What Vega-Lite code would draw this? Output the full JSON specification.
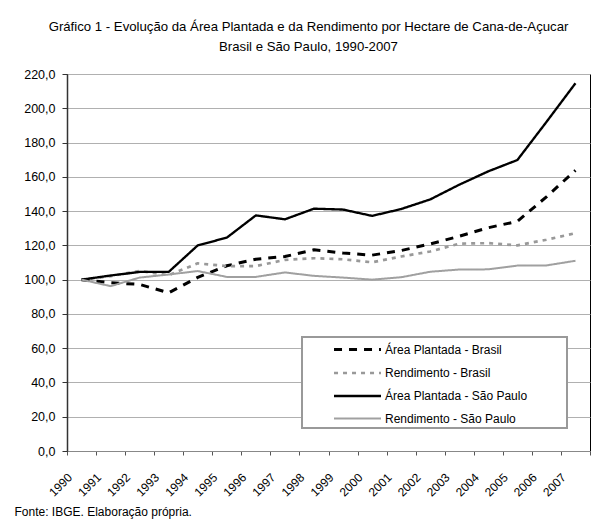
{
  "$schema": "https://vega.github.io/schema/vega-lite/v6.json",
  "width": 523,
  "height": 377,
  "autosize": {"type": "none"},
  "padding": {"left": 67, "top": 74, "right": 6, "bottom": 70},
  "background": "white",
  "config": {
    "locale": {"number": {"decimal": ",", "thousands": ".", "grouping": [3], "currency": ["R$", ""]}},
    "font": "Liberation Sans",
    "view": {"stroke": "black", "strokeWidth": 1},
    "legend": {
      "orient": "none",
      "legendX": 235,
      "legendY": 263,
      "fillColor": "white",
      "strokeColor": "#999999",
      "strokeWidth": 2,
      "padding": 3,
      "labelFontSize": 12,
      "labelColor": "black",
      "labelFont": "Liberation Sans",
      "symbolType": "M-3,0H3",
      "symbolSize": 245,
      "symbolOffset": 43,
      "labelOffset": 18,
      "rowPadding": 7.5,
      "titleOrient": "right",
      "titlePadding": 37,
      "titleFontSize": 12
    }
  },
  "title": {
    "text": ["Gráfico 1 - Evolução da Área Plantada e da Rendimento por Hectare de Cana-de-Açucar", "Brasil e São Paulo, 1990-2007"],
    "fontSize": 13.2,
    "fontWeight": "normal",
    "color": "black",
    "anchor": "middle",
    "dx": -20,
    "offset": 14,
    "lineHeight": 20
  },
  "data": {
    "values": [
      {"ano": "1990", "Área Plantada - Brasil": 100, "Rendimento - Brasil": 100, "Área Plantada - São Paulo": 100, "Rendimento - São Paulo": 100},
      {"ano": "1991", "Área Plantada - Brasil": 98.2, "Rendimento - Brasil": 102, "Área Plantada - São Paulo": 102.4, "Rendimento - São Paulo": 96.2},
      {"ano": "1992", "Área Plantada - Brasil": 97.2, "Rendimento - Brasil": 105.1, "Área Plantada - São Paulo": 104.5, "Rendimento - São Paulo": 101.2},
      {"ano": "1993", "Área Plantada - Brasil": 92.3, "Rendimento - Brasil": 102.6, "Área Plantada - São Paulo": 104.5, "Rendimento - São Paulo": 103},
      {"ano": "1994", "Área Plantada - Brasil": 101.3, "Rendimento - Brasil": 109.5, "Área Plantada - São Paulo": 120, "Rendimento - São Paulo": 105},
      {"ano": "1995", "Área Plantada - Brasil": 108.1, "Rendimento - Brasil": 107.9, "Área Plantada - São Paulo": 124.5, "Rendimento - São Paulo": 101.6},
      {"ano": "1996", "Área Plantada - Brasil": 111.9, "Rendimento - Brasil": 107.9, "Área Plantada - São Paulo": 137.5, "Rendimento - São Paulo": 101.6},
      {"ano": "1997", "Área Plantada - Brasil": 113.5, "Rendimento - Brasil": 111.5, "Área Plantada - São Paulo": 135.2, "Rendimento - São Paulo": 104.2},
      {"ano": "1998", "Área Plantada - Brasil": 117.4, "Rendimento - Brasil": 112.5, "Área Plantada - São Paulo": 141.4, "Rendimento - São Paulo": 102.2},
      {"ano": "1999", "Área Plantada - Brasil": 115.5, "Rendimento - Brasil": 111.9, "Área Plantada - São Paulo": 140.9, "Rendimento - São Paulo": 101.2},
      {"ano": "2000", "Área Plantada - Brasil": 114.3, "Rendimento - Brasil": 110.1, "Área Plantada - São Paulo": 137.2, "Rendimento - São Paulo": 100},
      {"ano": "2001", "Área Plantada - Brasil": 117, "Rendimento - Brasil": 113.5, "Área Plantada - São Paulo": 141.2, "Rendimento - São Paulo": 101.4},
      {"ano": "2002", "Área Plantada - Brasil": 120.8, "Rendimento - Brasil": 116.4, "Área Plantada - São Paulo": 146.8, "Rendimento - São Paulo": 104.6},
      {"ano": "2003", "Área Plantada - Brasil": 125.3, "Rendimento - Brasil": 121, "Área Plantada - São Paulo": 155.4, "Rendimento - São Paulo": 105.9},
      {"ano": "2004", "Área Plantada - Brasil": 130.3, "Rendimento - Brasil": 121.3, "Área Plantada - São Paulo": 163.2, "Rendimento - São Paulo": 106},
      {"ano": "2005", "Área Plantada - Brasil": 134, "Rendimento - Brasil": 120, "Área Plantada - São Paulo": 169.8, "Rendimento - São Paulo": 108.2},
      {"ano": "2006", "Área Plantada - Brasil": 148.3, "Rendimento - Brasil": 123.3, "Área Plantada - São Paulo": 192, "Rendimento - São Paulo": 108.3},
      {"ano": "2007", "Área Plantada - Brasil": 163.8, "Rendimento - Brasil": 127.1, "Área Plantada - São Paulo": 214.6, "Rendimento - São Paulo": 111}
    ]
  },
  "transform": [
    {"fold": ["Área Plantada - Brasil", "Rendimento - Brasil", "Área Plantada - São Paulo", "Rendimento - São Paulo"], "as": ["serie", "valor"]}
  ],
  "mark": {"type": "line", "strokeCap": "butt", "strokeJoin": "round"},
  "encoding": {
    "x": {
      "field": "ano",
      "type": "ordinal",
      "bandPosition": 0.5,
      "scale": {"type": "band", "paddingInner": 0, "paddingOuter": 0},
      "axis": {
        "title": "Fonte: IBGE. Elaboração própria.",
        "titleX": -53,
        "titleY": 60,
        "titleAlign": "left",
        "titleBaseline": "middle",
        "titleFontSize": 12,
        "titleFontWeight": "normal",
        "titleColor": "black",
        "tickBand": "extent",
        "labelAngle": -45,
        "labelAlign": "right",
        "labelBaseline": "middle",
        "labelOffset": -12,
        "labelPadding": 20,
        "labelFontSize": 12,
        "labelColor": "black",
        "tickSize": 4,
        "tickColor": "#555555",
        "domainColor": "#888888",
        "grid": false
      }
    },
    "y": {
      "field": "valor",
      "type": "quantitative",
      "scale": {"domain": [0, 220], "nice": false},
      "axis": {
        "title": null,
        "values": [0, 20, 40, 60, 80, 100, 120, 140, 160, 180, 200, 220],
        "format": ".1f",
        "labelFontSize": 12.5,
        "labelColor": "black",
        "labelPadding": 7,
        "tickSize": 5,
        "tickColor": "#333333",
        "domainColor": "#333333",
        "domainWidth": 1.5,
        "gridColor": "#b0b0b0",
        "gridWidth": 1
      }
    },
    "color": {
      "field": "serie",
      "type": "nominal",
      "title": "\u00a0",
      "scale": {
        "domain": ["Área Plantada - Brasil", "Rendimento - Brasil", "Área Plantada - São Paulo", "Rendimento - São Paulo"],
        "range": ["#000000", "#999999", "#000000", "#a0a0a0"]
      }
    },
    "strokeDash": {
      "field": "serie",
      "type": "nominal",
      "title": "\u00a0",
      "scale": {
        "domain": ["Área Plantada - Brasil", "Rendimento - Brasil", "Área Plantada - São Paulo", "Rendimento - São Paulo"],
        "range": [[8, 7], [4, 5], [1, 0], [1, 0]]
      }
    },
    "strokeWidth": {
      "field": "serie",
      "type": "nominal",
      "title": "\u00a0",
      "scale": {
        "domain": ["Área Plantada - Brasil", "Rendimento - Brasil", "Área Plantada - São Paulo", "Rendimento - São Paulo"],
        "range": [3, 2, 3, 2]
      }
    }
  }
}
